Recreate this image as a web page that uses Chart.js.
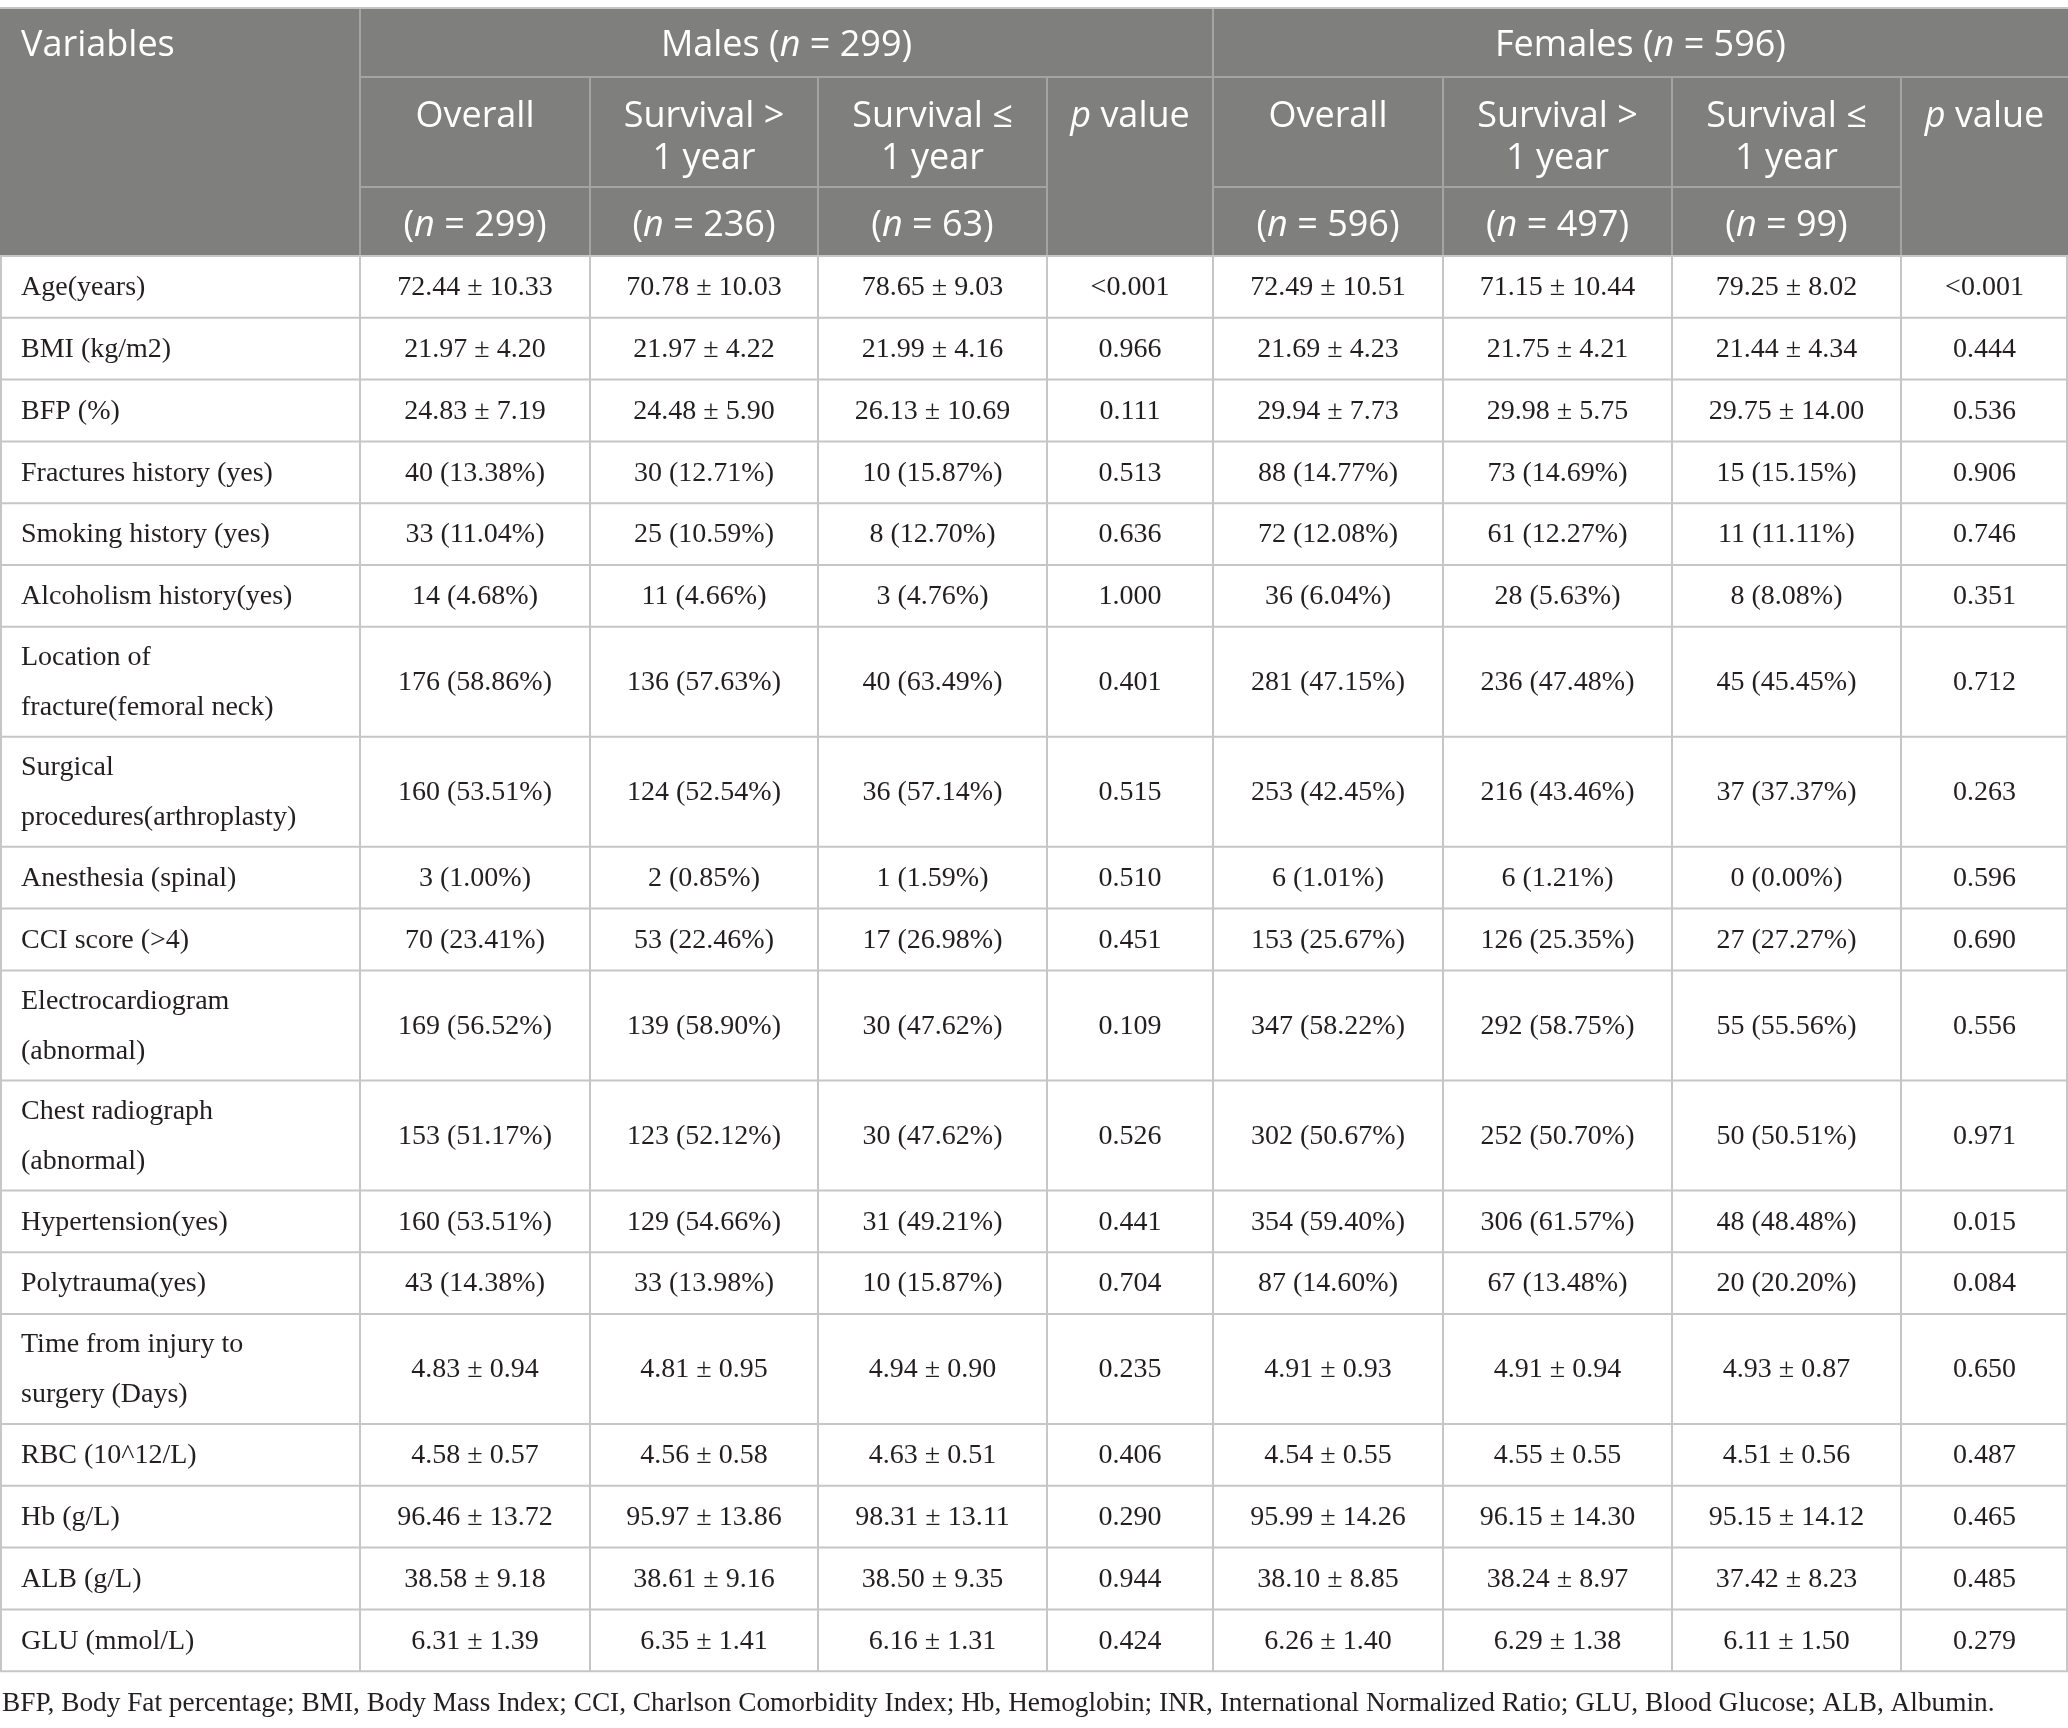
<!DOCTYPE html>
<html>
<head>
<meta charset="utf-8">
<title>Baseline characteristics by sex and one-year survival</title>
<script src="https://cdn.jsdelivr.net/npm/chart.js@4.4.1/dist/chart.umd.min.js"></script>
<style>
  html, body { margin: 0; padding: 0; background: #ffffff; }
  #tableChart { display: block; }
</style>
</head>
<body>
<canvas id="tableChart" width="2068" height="1728"></canvas>
<script>
// Table contents (text between * is set in italics)
const groupHeaders = ['Males (*n* = 299)', 'Females (*n* = 596)'];
const subHeaders = ['Overall', 'Survival >\n1 year', 'Survival ≤\n1 year', '*p* value'];
const maleCounts = ['(*n* = 299)', '(*n* = 236)', '(*n* = 63)'];
const femaleCounts = ['(*n* = 596)', '(*n* = 497)', '(*n* = 99)'];

const variables = [
    'Age(years)', 'BMI (kg/m2)', 'BFP (%)', 'Fractures history (yes)', 'Smoking history (yes)',
    'Alcoholism history(yes)', 'Location of\nfracture(femoral neck)', 'Surgical\nprocedures(arthroplasty)',
    'Anesthesia (spinal)', 'CCI score (>4)', 'Electrocardiogram\n(abnormal)', 'Chest radiograph\n(abnormal)',
    'Hypertension(yes)', 'Polytrauma(yes)', 'Time from injury to\nsurgery (Days)', 'RBC (10^12/L)',
    'Hb (g/L)', 'ALB (g/L)', 'GLU (mmol/L)'
];

const malesOverall = [
    '72.44 ± 10.33', '21.97 ± 4.20', '24.83 ± 7.19', '40 (13.38%)', '33 (11.04%)', '14 (4.68%)',
    '176 (58.86%)', '160 (53.51%)', '3 (1.00%)', '70 (23.41%)', '169 (56.52%)', '153 (51.17%)',
    '160 (53.51%)', '43 (14.38%)', '4.83 ± 0.94', '4.58 ± 0.57', '96.46 ± 13.72', '38.58 ± 9.18', '6.31 ± 1.39'
];
const malesSurvivalLong = [
    '70.78 ± 10.03', '21.97 ± 4.22', '24.48 ± 5.90', '30 (12.71%)', '25 (10.59%)', '11 (4.66%)',
    '136 (57.63%)', '124 (52.54%)', '2 (0.85%)', '53 (22.46%)', '139 (58.90%)', '123 (52.12%)',
    '129 (54.66%)', '33 (13.98%)', '4.81 ± 0.95', '4.56 ± 0.58', '95.97 ± 13.86', '38.61 ± 9.16', '6.35 ± 1.41'
];
const malesSurvivalShort = [
    '78.65 ± 9.03', '21.99 ± 4.16', '26.13 ± 10.69', '10 (15.87%)', '8 (12.70%)', '3 (4.76%)',
    '40 (63.49%)', '36 (57.14%)', '1 (1.59%)', '17 (26.98%)', '30 (47.62%)', '30 (47.62%)',
    '31 (49.21%)', '10 (15.87%)', '4.94 ± 0.90', '4.63 ± 0.51', '98.31 ± 13.11', '38.50 ± 9.35', '6.16 ± 1.31'
];
const malesP = [
    '<0.001', '0.966', '0.111', '0.513', '0.636', '1.000', '0.401', '0.515', '0.510', '0.451',
    '0.109', '0.526', '0.441', '0.704', '0.235', '0.406', '0.290', '0.944', '0.424'
];
const femalesOverall = [
    '72.49 ± 10.51', '21.69 ± 4.23', '29.94 ± 7.73', '88 (14.77%)', '72 (12.08%)', '36 (6.04%)',
    '281 (47.15%)', '253 (42.45%)', '6 (1.01%)', '153 (25.67%)', '347 (58.22%)', '302 (50.67%)',
    '354 (59.40%)', '87 (14.60%)', '4.91 ± 0.93', '4.54 ± 0.55', '95.99 ± 14.26', '38.10 ± 8.85', '6.26 ± 1.40'
];
const femalesSurvivalLong = [
    '71.15 ± 10.44', '21.75 ± 4.21', '29.98 ± 5.75', '73 (14.69%)', '61 (12.27%)', '28 (5.63%)',
    '236 (47.48%)', '216 (43.46%)', '6 (1.21%)', '126 (25.35%)', '292 (58.75%)', '252 (50.70%)',
    '306 (61.57%)', '67 (13.48%)', '4.91 ± 0.94', '4.55 ± 0.55', '96.15 ± 14.30', '38.24 ± 8.97', '6.29 ± 1.38'
];
const femalesSurvivalShort = [
    '79.25 ± 8.02', '21.44 ± 4.34', '29.75 ± 14.00', '15 (15.15%)', '11 (11.11%)', '8 (8.08%)',
    '45 (45.45%)', '37 (37.37%)', '0 (0.00%)', '27 (27.27%)', '55 (55.56%)', '50 (50.51%)',
    '48 (48.48%)', '20 (20.20%)', '4.93 ± 0.87', '4.51 ± 0.56', '95.15 ± 14.12', '37.42 ± 8.23', '6.11 ± 1.50'
];
const femalesP = [
    '<0.001', '0.444', '0.536', '0.906', '0.746', '0.351', '0.712', '0.263', '0.596', '0.690',
    '0.556', '0.971', '0.015', '0.084', '0.650', '0.487', '0.465', '0.485', '0.279'
];

const footnote = 'BFP, Body Fat percentage; BMI, Body Mass Index; CCI, Charlson Comorbidity Index; Hb, Hemoglobin; INR, International Normalized Ratio; GLU, Blood Glucose; ALB, Albumin.';

// Layout (table units, mapped to pixels by the chart scales)
const colWidths = [360, 230, 228, 229, 166, 230, 229, 229, 167];
const headerEdges = [9, 77, 187, 256];
const singleRow = 61.8;
const doubleRow = 110;
const cellPadLeft = 21;

const colEdges = [0];
colWidths.forEach(w => colEdges.push(colEdges[colEdges.length - 1] + w));
const rowEdges = [headerEdges[3]];
variables.forEach(v => rowEdges.push(rowEdges[rowEdges.length - 1] + (v.includes('\n') ? doubleRow : singleRow)));
const rowCenter = i => (rowEdges[i] + rowEdges[i + 1]) / 2;
const colCenter = i => (colEdges[i] + colEdges[i + 1]) / 2;

const bodyColumns = [variables, malesOverall, malesSurvivalLong, malesSurvivalShort, malesP,
    femalesOverall, femalesSurvivalLong, femalesSurvivalShort, femalesP];

const SERIF = '"Liberation Serif", "DejaVu Serif", serif';
const SANS = '"Open Sans", "Noto Sans", sans-serif';
const bodySize = 28;
const noteSize = 27.3;
const headSize = 36;
const headShift = 4;

// Draws text where *...* parts are italic
function drawRich(ctx, str, x, y, align, size, family) {
    const parts = str.split('*');
    const fonts = parts.map((p, i) => (i % 2 ? 'italic ' : '') + size + 'px ' + family);
    let total = 0;
    const widths = parts.map((p, i) => { ctx.font = fonts[i]; const w = ctx.measureText(p).width; total += w; return w; });
    let cx = align === 'center' ? x - total / 2 : x;
    ctx.textAlign = 'left';
    parts.forEach((p, i) => { ctx.font = fonts[i]; ctx.fillText(p, cx, y); cx += widths[i]; });
}

function drawLines(ctx, str, x, y, gap, align, size, family) {
    const lines = str.split('\n');
    const top = y - (lines.length - 1) * gap / 2;
    lines.forEach((l, i) => drawRich(ctx, l, x, top + i * gap, align, size, family));
}

const tablePlugin = {
    id: 'tableCells',
    beforeDatasetsDraw(chart) {
        const { ctx, scales: { x, y } } = chart;
        const px = v => x.getPixelForValue(v);
        const py = v => y.getPixelForValue(v);
        const hline = (x0, x1, yy) => { ctx.beginPath(); ctx.moveTo(px(x0), py(yy)); ctx.lineTo(px(x1), py(yy)); ctx.stroke(); };
        const vline = (xx, y0, y1) => { ctx.beginPath(); ctx.moveTo(px(xx), py(y0)); ctx.lineTo(px(xx), py(y1)); ctx.stroke(); };
        const last = colEdges.length - 1;
        ctx.save();

        // header block
        ctx.fillStyle = '#7f807e';
        ctx.fillRect(px(0), py(headerEdges[0]), px(colEdges[last]) - px(0), py(headerEdges[3]) - py(headerEdges[0]));
        ctx.strokeStyle = '#c4c4c4';
        ctx.lineWidth = 2;
        hline(0, colEdges[last], headerEdges[0] - 1);

        ctx.strokeStyle = '#a4a5a3';
        hline(colEdges[1], colEdges[last], headerEdges[1]);
        hline(colEdges[1], colEdges[4], headerEdges[2]);
        hline(colEdges[5], colEdges[8], headerEdges[2]);
        vline(colEdges[1], headerEdges[0], headerEdges[3]);
        vline(colEdges[5], headerEdges[0], headerEdges[3]);
        [2, 3, 4, 6, 7, 8].forEach(c => vline(colEdges[c], headerEdges[1], headerEdges[3]));

        // body grid
        ctx.strokeStyle = '#c6c6c6';
        rowEdges.forEach(r => hline(0, colEdges[last], r));
        colEdges.forEach(c => vline(Math.min(Math.max(c, 1), colEdges[last] - 1), rowEdges[0], rowEdges[rowEdges.length - 1]));

        // header text
        ctx.fillStyle = '#ffffff';
        ctx.textBaseline = 'middle';
        drawRich(ctx, 'Variables', px(cellPadLeft), py(42 + headShift), 'left', headSize, SANS);
        groupHeaders.forEach((g, k) => {
            const c0 = 1 + k * 4;
            drawRich(ctx, g, (px(colEdges[c0]) + px(colEdges[c0 + 4])) / 2, py(42 + headShift), 'center', headSize, SANS);
            subHeaders.forEach((s, j) => {
                s.split('\n').forEach((l, li) =>
                    drawRich(ctx, l, px(colCenter(c0 + j)), py(113 + headShift + li * 42), 'center', headSize, SANS));
            });
            (k ? femaleCounts : maleCounts).forEach((n, j) =>
                drawRich(ctx, n, px(colCenter(c0 + j)), py((headerEdges[2] + headerEdges[3]) / 2 + headShift), 'center', headSize, SANS));
        });

        // body cells, placed at each dataset point
        ctx.fillStyle = '#231f20';
        chart.data.datasets.forEach((ds, di) => {
            const meta = chart.getDatasetMeta(di);
            meta.data.forEach((pt, ri) => {
                drawLines(ctx, ds.cells[ri], pt.x, pt.y + 1, 50, di === 0 ? 'left' : 'center', bodySize, SERIF);
            });
        });

        // footnote
        drawRich(ctx, footnote, px(2), py(rowEdges[rowEdges.length - 1] + 33), 'left', noteSize, SERIF);
        ctx.restore();
    }
};

const datasets = bodyColumns.map((col, c) => ({
    label: c === 0 ? 'Variables' : 'column ' + c,
    cells: col,
    data: col.map((v, r) => ({ x: c === 0 ? colEdges[0] + cellPadLeft : colCenter(c), y: rowCenter(r) })),
    pointRadius: 0,
    pointHoverRadius: 0,
    showLine: false
}));

new Chart(document.getElementById('tableChart'), {
    type: 'scatter',
    data: { datasets: datasets },
    options: {
        responsive: false,
        animation: false,
        devicePixelRatio: 1,
        events: [],
        layout: { padding: 0 },
        plugins: { legend: { display: false }, tooltip: { enabled: false } },
        scales: {
            x: { type: 'linear', display: false, min: 0, max: colEdges[colEdges.length - 1] },
            y: { type: 'linear', display: false, reverse: true, min: 0, max: 1728 }
        }
    },
    plugins: [tablePlugin]
});
</script>
</body>
</html>
